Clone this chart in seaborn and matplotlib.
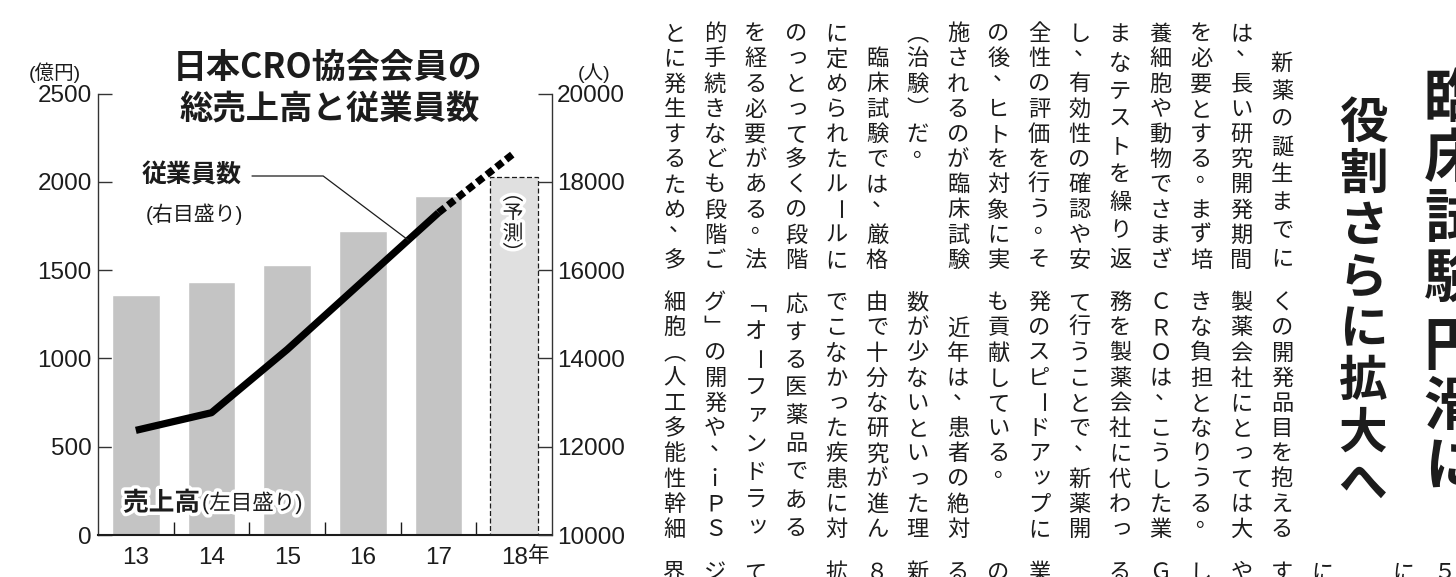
import numpy as np
import pandas as pd
import matplotlib
matplotlib.use("Agg")
import matplotlib.pyplot as plt
import matplotlib.patheffects as pe
import seaborn as sns

# グラフのデータ (18年は予測)
years = ["13", "14", "15", "16", "17", "18"]
sales = [1360, 1430, 1530, 1720, 1920, 2025]          # 総売上高 (億円)
staff = [12370, 12770, 14200, 15750, 17300, 18650]    # 従業員数 (人)
left_ticks = [0, 500, 1000, 1500, 2000, 2500]
right_ticks = [10000, 12000, 14000, 16000, 18000, 20000]

# 記事 (縦書き, 右の列から)
headline_main = ["臨床試験", "円滑に"]
headline_sub = "役割さらに拡大へ"
upper_cols = [
    "　新薬の誕生までに", "は、長い研究開発期間", "を必要とする。まず培",
    "養細胞や動物でさまざ", "まなテストを繰り返", "し、有効性の確認や安",
    "全性の評価を行う。そ", "の後、ヒトを対象に実", "施されるのが臨床試験",
    "（治験）だ。", "　臨床試験では、厳格", "に定められたルールに",
    "のっとって多くの段階", "を経る必要がある。法", "的手続きなども段階ご",
    "とに発生するため、多",
]
middle_cols = [
    "くの開発品目を抱える", "製薬会社にとっては大", "きな負担となりうる。",
    "ＣＲＯは、こうした業", "務を製薬会社に代わっ", "て行うことで、新薬開",
    "発のスピードアップに", "も貢献している。", "　近年は、患者の絶対",
    "数が少ないといった理", "由で十分な研究が進ん", "でこなかった疾患に対",
    "応する医薬品である", "「オーファンドラッ", "グ」の開発や、ｉＰＳ",
    "細胞（人工多能性幹細",
]
# 下段の先頭文字 (右端の列から)
bottom_heads = ["５", "に", "　", "に", "す", "や", "し", "Ｇ", "る", "　",
                "業", "の", "る", "新", "８", "拡", "　", "て", "ジ", "界"]

W, H = 1456, 577
INK = "#1c1c1c"
VERT = {"（": "︵", "）": "︶", "「": "﹁", "」": "﹂"}

sns.set_theme(style="white")
plt.rcParams["font.family"] = ["Liberation Sans", "Noto Sans CJK JP", "DejaVu Sans"]
JP = ["Noto Sans CJK JP", "DejaVu Sans"]

fig = plt.figure(figsize=(W / 100, H / 100), dpi=100)
fig.patch.set_facecolor("white")


def px(x, y):
    return x / W, 1 - y / H


def draw_column(xc, top, text, pitch, size, weight="normal", **kw):
    em = size * 100 / 72
    for i, ch in enumerate(text):
        if ch == "　":
            continue
        x, y, rot = xc, top + (i + 0.5) * pitch, 0
        if ch in "、。":
            x += 0.25 * em
            y -= 0.45 * em
        elif ch in "っッァゃャ":
            x += 0.08 * em
            y -= 0.12 * em
        if ch == "ー":
            rot = -90
        fig.text(*px(x, y), VERT.get(ch, ch), ha="center", va="center",
                 rotation=rot, fontsize=size, fontweight=weight, color=INK,
                 family=JP, **kw)


# ---- グラフ ----
ax = fig.add_axes([98 / W, 1 - 535 / H, (552 - 98) / W, (535 - 93.5) / H])
df = pd.DataFrame({"year": years, "sales": sales})
bar_colors = ["#c4c4c4"] * (len(years) - 1) + ["#e0e0e0"]
sns.barplot(data=df, x="year", y="sales", hue="year", palette=bar_colors,
            legend=False, width=0.63, saturation=1, ax=ax)
fc = ax.patches[-1]
fc.set_edgecolor(INK)
fc.set_linewidth(0.9)
fc.set_linestyle((0, (4, 2)))

ax.set_xlim(-0.5, len(years) - 0.5)
ax.set_ylim(left_ticks[0], left_ticks[-1])
ax.set_yticks(left_ticks)
ax.set_xlabel("")
ax.set_ylabel("")
for s in ["top", "right"]:
    ax.spines[s].set_visible(False)
ax.spines["left"].set_color("#333333")
ax.spines["left"].set_linewidth(1.0)
ax.spines["bottom"].set_color(INK)
ax.spines["bottom"].set_linewidth(1.5)
ax.tick_params(axis="y", left=True, direction="in", length=10, width=1,
               colors="#333333", labelcolor=INK, labelsize=17.5, pad=4.5)
ax.tick_params(axis="x", which="major", length=0, labelsize=17.5, pad=9, labelcolor=INK)
ax.set_xticks(np.arange(0.5, len(years) - 1, 1), minor=True)
ax.tick_params(axis="x", which="minor", bottom=True, direction="in", length=9.5,
               width=1, colors=INK)

ax2 = ax.twinx()
ax2.set_ylim(right_ticks[0], right_ticks[-1])
ax2.set_yticks(right_ticks)
for s in ["top", "left", "bottom"]:
    ax2.spines[s].set_visible(False)
ax2.spines["right"].set_color("#333333")
ax2.spines["right"].set_linewidth(1.0)
ax2.tick_params(axis="y", right=True, direction="in", length=10, width=1,
                colors="#333333", labelcolor=INK, labelsize=17.5, pad=3.6)

xpos = np.arange(len(years))
sns.lineplot(x=xpos[:-1], y=staff[:-1], ax=ax2, color="black", linewidth=5.2)
ax2.lines[-1].set_solid_capstyle("butt")
sns.lineplot(x=xpos[-2:], y=staff[-2:], ax=ax2, color="black", linewidth=5.2)
ax2.lines[-1].set_linestyle((0, (1.1, 0.6)))
ax2.lines[-1].set_dash_capstyle("butt")
ax2.set_xlabel("")
ax2.set_ylabel("")

# 引き出し線
t = 0.6
lead_y = staff[3] + t * (staff[4] - staff[3])
ax2.annotate("", xy=(xpos[3] + t, lead_y), xycoords="data",
             xytext=(252, H - 176), textcoords="figure pixels",
             arrowprops=dict(arrowstyle="-", color=INK, lw=0.9,
                             connectionstyle="angle,angleA=0,angleB=-37,rad=0",
                             shrinkA=0, shrinkB=0))

halo = [pe.withStroke(linewidth=5, foreground="white")]
fig.text(*px(328, 68), "日本CRO協会会員の", ha="center", va="center",
         fontsize=24.5, fontweight="bold", color=INK, family=JP)
fig.text(*px(330, 110), "総売上高と従業員数", ha="center", va="center",
         fontsize=24, fontweight="bold", color=INK, family=JP)
fig.text(*px(55, 73), "(億円)", ha="center", va="center", fontsize=14, color=INK)
fig.text(*px(594, 73), "(人)", ha="center", va="center", fontsize=14, color=INK)
fig.text(*px(142, 176), "従業員数", ha="left", va="center", fontsize=18,
         fontweight="bold", color=INK, family=JP)
fig.text(*px(146, 214), "(右目盛り)", ha="left", va="center", fontsize=15, color=INK)
fig.text(*px(123, 503), "売上高", ha="left", va="center", fontsize=18.5,
         fontweight="bold", color=INK, family=JP, path_effects=halo)
fig.text(*px(202, 503), "(左目盛り)", ha="left", va="center", fontsize=15.5,
         color=INK, path_effects=halo)
fig.text(*px(539, 557), "年", ha="center", va="center", fontsize=15.5, color=INK)
draw_column(513, 184, "（予測）", 20, 15, path_effects=halo)

# ---- 記事 ----
draw_column(1453, 70, headline_main[0], 60, 42, "bold")
draw_column(1453, 318, headline_main[1], 60, 42, "bold")
draw_column(1363, 97, headline_sub, 51.7, 35, "bold")

col_pitch = 40.5
for k, (up, mid) in enumerate(zip(upper_cols, middle_cols)):
    xc = 1282 - col_pitch * k
    for text, top in [(up, 21), (mid, 290)]:
        n = len(text)
        pitch = 252 / n if n >= 9 else 25.2
        draw_column(xc, top, text, pitch, 16)
for j, ch in enumerate(bottom_heads):
    draw_column(1282 + col_pitch * (4 - j), 560, ch, 25.2, 16)

fig.savefig("out.png", dpi=100)
